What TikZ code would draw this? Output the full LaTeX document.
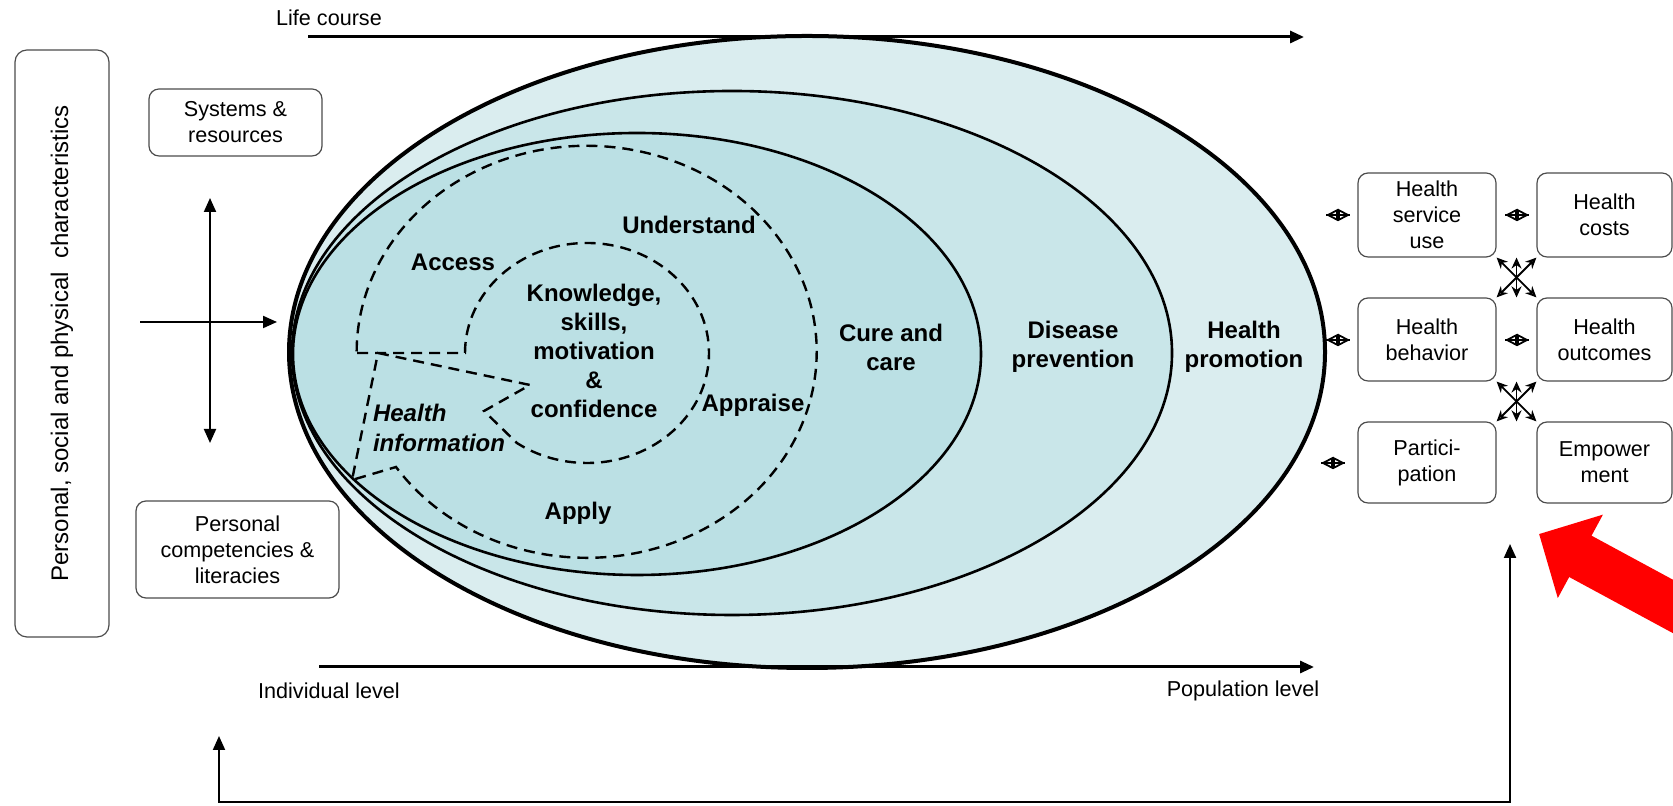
\documentclass[tikz,border=0pt]{standalone}
\usepackage{fontspec}
\setmainfont{Liberation Sans}
\usetikzlibrary{arrows.meta,calc}

\definecolor{ringout}{HTML}{DAEDEF}
\definecolor{ringmid}{HTML}{C9E6E9}
\definecolor{ringin}{HTML}{BBE0E4}

\tikzset{
  box/.style={draw=black!70,rounded corners=5pt,line width=0.6pt,align=center,inner sep=0pt,
    font=\fontsize{10.8}{13}\selectfont},
  ring/.style={draw,line width=1.3pt},
  dashline/.style={line width=1.2pt,dash pattern=on 5.5pt off 3.5pt},
  lbl/.style={font=\bfseries\fontsize{12}{14.5}\selectfont,align=center},
  plain/.style={font=\fontsize{10.8}{13}\selectfont},
  bigarrow/.style={line width=1.5pt,-{Triangle[length=7pt,width=6pt]}},
  dblarrow/.style={line width=1pt,{Triangle[length=7pt,width=6pt]}-{Triangle[length=7pt,width=6pt]}},
  twoway/.style={line width=0.9pt,{Stealth[open,length=5.5pt,width=5pt]}-{Stealth[open,length=5.5pt,width=5pt]}},
  tinyway/.style={line width=0.9pt,{Triangle[open,length=6pt,width=6pt]}-{Triangle[open,length=6pt,width=6pt]}}
}

\begin{document}
\begin{tikzpicture}[x=0.5pt,y=0.5pt]
      \useasboundingbox (0,0) rectangle (1673,806);
      \draw[ring,line width=2pt,fill=ringout] (807,454) ellipse [x radius=518,y radius=316];
      \draw[ring,fill=ringmid] (732,453) ellipse [x radius=440,y radius=262];
      \draw[ring,fill=ringin] (637,452) ellipse [x radius=344,y radius=221];
      \draw[dashline] (357,453) -- (465,453)
        arc[start angle=180,end angle=-125,x radius=122,y radius=110]
        -- (484,395) -- (530,421) -- (378,453) -- (352,326) -- (396,339)
        arc[start angle=214,end angle=540,x radius=230,y radius=206];

      \node[lbl] (access) at (453,544) {Access};
      \node[lbl] (understand) at (689,581) {Understand};
      \node[lbl] (core) at (594,455) {Knowledge,\\skills,\\motivation\\\&\\confidence};
      \node[lbl] (appraise) at (753,401) {Appraise};
      \node[lbl,font=\bfseries\itshape\fontsize{12}{15}\selectfont,align=left,anchor=west] (hinfo) at (366,378) {Health\\information};
      \node[lbl] (apply) at (578,293) {Apply};
      \node[lbl] (cure) at (891,459) {Cure and\\care};
      \node[lbl] (prevent) at (1073,459) {Disease\\prevention};
      \node[lbl] (promote) at (1244,459) {Health\\promotion};

      \node[box,rounded corners=6pt,rotate=90,minimum width=293.5pt,minimum height=47pt,
        font=\fontsize{12}{14}\selectfont] (traits) at (62,462.5) {Personal, social and physical\ \ characteristics};
      \node[box,minimum width=86.5pt,minimum height=33.5pt] (systems) at (235.5,683.5) {Systems \&\\resources};
      \node[box,minimum width=101.5pt,minimum height=48.5pt] (competence) at (237.5,256.5) {Personal\\competencies \&\\literacies};

      \node[box,minimum width=69pt,minimum height=42pt] (hsu) at (1427,591) {Health\\service\\use};
      \node[box,minimum width=67.5pt,minimum height=42pt] (hcost) at (1604.5,591) {Health\\costs};
      \node[box,minimum width=69pt,minimum height=41.5pt] (hbeh) at (1427,466.5) {Health\\behavior};
      \node[box,minimum width=67.5pt,minimum height=41.5pt] (hout) at (1604.5,466.5) {Health\\outcomes};
      \node[box,minimum width=69pt,minimum height=40.5pt] (partic) at (1427,343.5) {Partici-\\pation};
      \node[box,minimum width=67.5pt,minimum height=40.5pt] (empower) at (1604.5,343.5) {Empower\\ment};

      \node[plain] (life) at (329,788) {Life course};
      \node[plain] (indiv) at (329,115) {Individual level};
      \node[plain] (popu) at (1243,115) {Population level};

      \coordinate (lifeA) at (308,769);
      \coordinate (lifeB) at (1304,769);
      \coordinate (levelA) at (319,139);
      \coordinate (levelB) at (1314,139);
      \coordinate (sysend) at (210,608);
      \coordinate (compend) at (210,363);
      \coordinate (inA) at (140,484);
      \coordinate (inB) at (277,484);
      \coordinate (fbL) at (219,70);
      \coordinate (fbbase) at (219,4);
      \coordinate (fbR) at (1510,262);
      \coordinate (redtip) at (1539,272);
      \coordinate (redtail) at (1759,153);

      \draw[bigarrow] (lifeA) -- (lifeB);
      \draw[bigarrow] (levelA) -- (levelB);
      \draw[dblarrow] (sysend) -- (compend);
      \draw[line width=1pt,-{Triangle[length=7pt,width=6pt]}] (inA) -- (inB);
      \draw[dblarrow] (fbL) -- (fbbase) -| (fbR);

      \draw[twoway] (hsu.south east) -- (hout.north west);
      \draw[twoway] (hcost.south west) -- (hbeh.north east);
      \draw[twoway] ($(hsu.south east)!0.5!(hcost.south west)$) -- ($(hbeh.north east)!0.5!(hout.north west)$);
      \draw[twoway] (hbeh.south east) -- (empower.north west);
      \draw[twoway] (hout.south west) -- (partic.north east);
      \draw[twoway] ($(hbeh.south east)!0.5!(hout.south west)$) -- ($(partic.north east)!0.5!(empower.north west)$);

      \foreach \px/\py in {1338/591,1517/591,1338/466,1517/466,1333/343} {
        \draw[tinyway] (\px-12,\py) -- (\px+12,\py);
        \draw[line width=0.9pt] (\px-12,\py) -- (\px+12,\py);
      }

      \begin{scope}
        \clip (0,0) rectangle (1673,806);
        \draw[red,line width=23.5pt,-{Triangle[length=23.5pt,width=46pt]}] (redtail) -- (redtip);
      \end{scope}
    \end{tikzpicture}
\end{document}
